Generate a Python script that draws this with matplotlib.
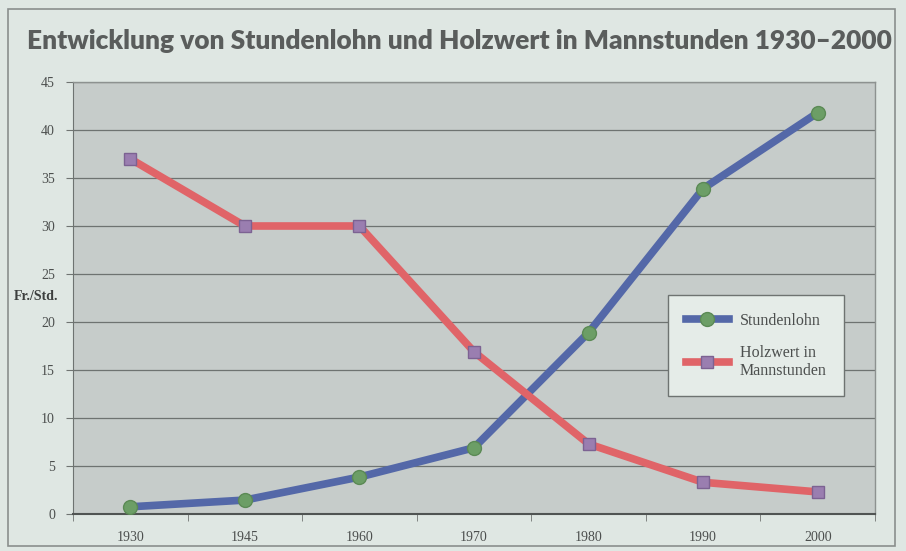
import numpy as np
import matplotlib.pyplot as plt
from matplotlib.patches import Rectangle

years = ["1930", "1945", "1960", "1970", "1980", "1990", "2000"]
stundenlohn = [0.75, 1.45, 3.85, 6.9, 18.9, 33.9, 41.8]
holzwert = [37.0, 30.0, 30.0, 16.9, 7.3, 3.3, 2.3]
y_ticks = [0, 5, 10, 15, 20, 25, 30, 35, 40, 45]

bg = "#dfe7e3"
plot_bg = "#c6ccca"
serif = "Liberation Serif"

fig = plt.figure(figsize=(9.06, 5.51), dpi=100)
fig.patch.set_facecolor(bg)

# outer frame
fig.patches.append(Rectangle((8 / 906, 5 / 551), 887 / 906, 537 / 551,
                             transform=fig.transFigure, fill=False,
                             edgecolor="#8a8f8d", linewidth=1.2))

fig.text(0.507, 0.925, "Entwicklung von Stundenlohn und Holzwert in Mannstunden 1930\u20132000",
         ha="center", va="center", fontsize=18.9, fontweight="heavy",
         color="#5a5d5c", family="Lato")

ax = fig.add_axes([73 / 906, 37 / 551, 802 / 906, 432 / 551])
ax.set_facecolor(plot_bg)

x = np.arange(len(years))
ax.plot(x, stundenlohn, color="#5468a8", linewidth=5.5, marker="o",
        markersize=10, markerfacecolor="#6c9e66", markeredgecolor="#5b8a55",
        label="Stundenlohn", zorder=3)
ax.plot(x, holzwert, color="#e06468", linewidth=5.5, marker="s",
        markersize=9, markerfacecolor="#9a7eb0", markeredgecolor="#7c6292",
        label="Holzwert in\nMannstunden", zorder=3)

ax.set_xlim(-0.5, len(years) - 0.5)
ax.set_ylim(0, 45)
ax.set_yticks(y_ticks)
ax.set_xticks(x)
ax.set_xticklabels(years)
ax.set_xticks(np.arange(len(years) + 1) - 0.5, minor=True)
ax.tick_params(axis="x", which="major", length=0, pad=12)
ax.tick_params(axis="x", which="minor", length=5, color="#707472")
ax.tick_params(axis="y", length=5, color="#707472", pad=8)
for lab in ax.get_xticklabels() + ax.get_yticklabels():
    lab.set_fontfamily(serif)
    lab.set_fontsize(10)
    lab.set_color("#4c4f4e")

ax.grid(axis="y", color="#6e7371", linewidth=0.9)
ax.set_axisbelow(True)
for side in ["top", "right"]:
    ax.spines[side].set_color("#8d9290")
    ax.spines[side].set_linewidth(1)
ax.spines["left"].set_color("#6e7371")
ax.spines["bottom"].set_color("#505453")
ax.spines["bottom"].set_linewidth(1.5)

fig.text(36 / 906, 1 - 297 / 551, "Fr./Std.", ha="center", va="center",
         fontsize=10, fontweight="bold", family=serif, color="#3c3f3e")

leg = ax.legend(loc="upper left", bbox_to_anchor=(0.742, 0.507),
                frameon=True, fancybox=False, prop={"family": serif, "size": 11.5},
                handlelength=2.7, labelspacing=1.0, borderpad=1.1,
                handletextpad=0.7, borderaxespad=0)
leg.get_frame().set_facecolor("#e5ece8")
leg.get_frame().set_edgecolor("#6e7371")
leg.get_frame().set_alpha(1)
for t in leg.get_texts():
    t.set_color("#4c4f4e")

fig.savefig("out.png", dpi=100, facecolor=fig.get_facecolor())
